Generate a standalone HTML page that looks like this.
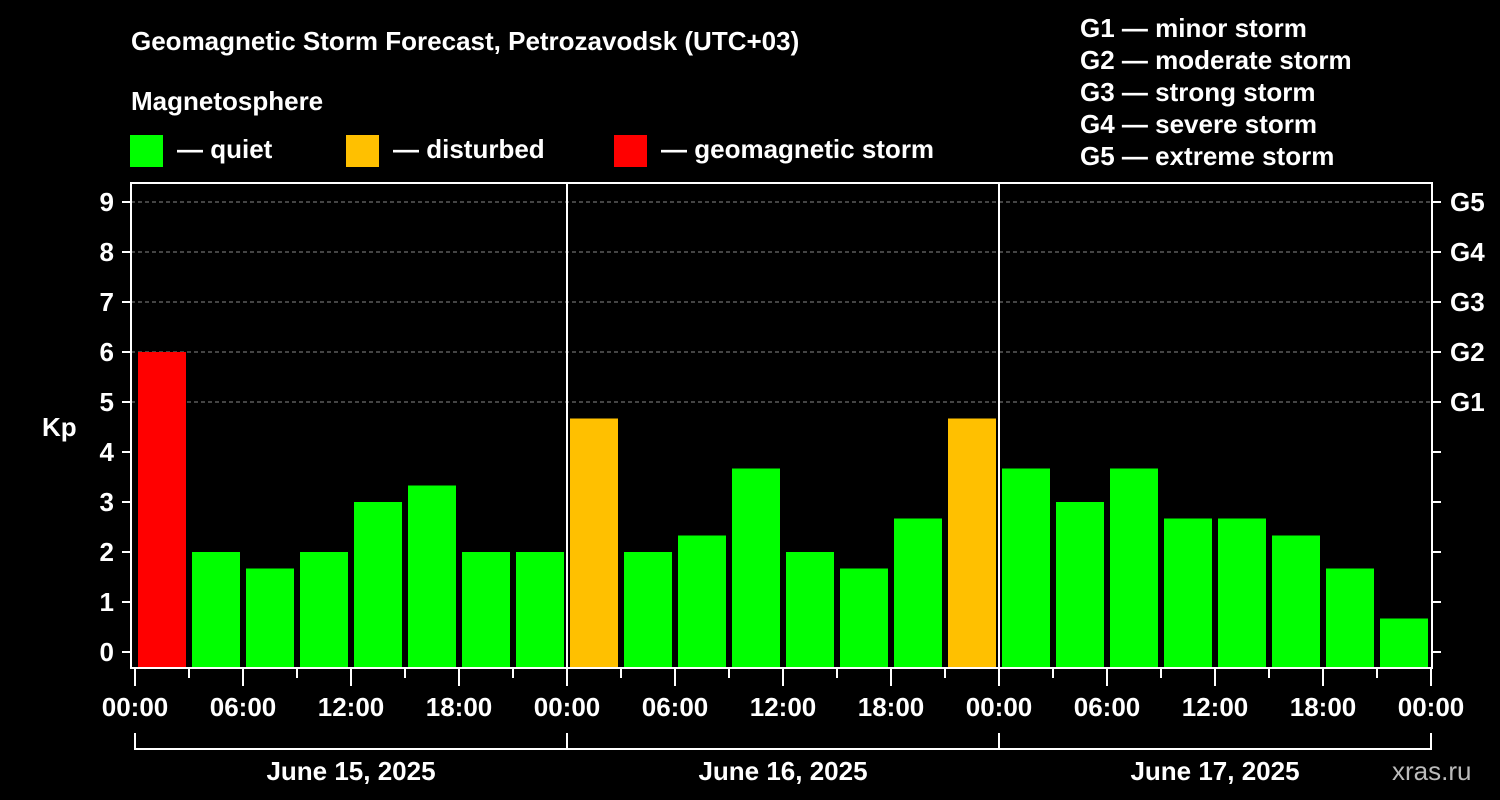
<!DOCTYPE html>
<html><head><meta charset="utf-8">
<style>
html,body{margin:0;padding:0;background:#000;}
svg{display:block;font-family:"Liberation Sans",Arial,sans-serif;font-weight:bold;}
</style></head>
<body>
<svg id="chart" width="1500" height="800" viewBox="0 0 1500 800" xmlns="http://www.w3.org/2000/svg">
<rect width="1500" height="800" fill="#000"/>
<text x="131" y="50" fill="#fff" font-size="26">Geomagnetic Storm Forecast, Petrozavodsk (UTC+03)</text>
<text x="131" y="110" fill="#fff" font-size="26">Magnetosphere</text>
<g><rect x="130" y="135" width="33" height="32" fill="#00ff00"/><text x="177" y="158" fill="#fff" font-size="26">— quiet</text></g>
<g><rect x="346" y="135" width="33" height="32" fill="#ffc000"/><text x="393" y="158" fill="#fff" font-size="26">— disturbed</text></g>
<g><rect x="614" y="135" width="33" height="32" fill="#ff0000"/><text x="661" y="158" fill="#fff" font-size="26">— geomagnetic storm</text></g>
<g fill="#fff" font-size="26">
<text x="1080" y="37">G1 — minor storm</text>
<text x="1080" y="69">G2 — moderate storm</text>
<text x="1080" y="101">G3 — strong storm</text>
<text x="1080" y="133">G4 — severe storm</text>
<text x="1080" y="165">G5 — extreme storm</text>
</g>
<text x="42" y="436" fill="#fff" font-size="26">Kp</text>
<text x="1392" y="780" fill="#bbb" font-size="26" font-weight="normal">xras.ru</text>
<g id="grid"></g>
<g id="bars"></g>
<g id="axes"></g>
</svg>
<script>
const kpValues = [6,2,1.67,2,3,3.33,2,2, 4.67,2,2.33,3.67,2,1.67,2.67,4.67, 3.67,3,3.67,2.67,2.67,2.33,1.67,0.67];
const yTicks = [0,1,2,3,4,5,6,7,8,9];
const gLabels = ["G1","G2","G3","G4","G5"];
const gLevels = [5,6,7,8,9];
const xTickLabels = ["00:00","06:00","12:00","18:00","00:00","06:00","12:00","18:00","00:00","06:00","12:00","18:00","00:00"];
const dayLabels = ["June 15, 2025","June 16, 2025","June 17, 2025"];

const NS="http://www.w3.org/2000/svg";
const X0=135, X1=1431, TOP=183, BOT=668;
const x = h => X0 + (X1-X0)*h/72;
const y = v => 652 - 50*v;
function mk(tag, attrs, parent, text){const e=document.createElementNS(NS,tag);for(const k in attrs)e.setAttribute(k,attrs[k]);if(text!==undefined)e.textContent=text;parent.appendChild(e);return e;}
const grid=document.getElementById('grid'), bars=document.getElementById('bars'), axes=document.getElementById('axes');

gLevels.forEach(v=>{
  const l=mk('line',{x1:131,x2:1431,y1:y(v),y2:y(v),stroke:'#888','stroke-dasharray':'4,3','stroke-width':1},grid);
  
  
});

kpValues.forEach((v,i)=>{
  const c = v>=5?'#ff0000':(v>=4?'#ffc000':'#00ff00');
  const r=mk('rect',{x:x(i*3)+3,y:y(v),width:x(3)-x(0)-6,height:BOT-y(v),fill:c},bars);
  
  
});

// frame
const f=mk('rect',{x:131,y:TOP,width:X1-131+1,height:BOT-TOP,fill:'none',stroke:'#fff','stroke-width':2},axes);


[1,2].forEach(d=>{
  const l=mk('line',{x1:x(d*24),x2:x(d*24),y1:TOP,y2:BOT,stroke:'#fff','stroke-width':2},axes);
  
  
});
yTicks.forEach(v=>{
  mk('line',{x1:122,x2:131,y1:y(v),y2:y(v),stroke:'#fff','stroke-width':2},axes);
  mk('line',{x1:1432,x2:1441,y1:y(v),y2:y(v),stroke:'#fff','stroke-width':2},axes);
  const t=mk('text',{x:114,y:y(v)+9,fill:'#fff','font-size':26,'text-anchor':'end'},axes,String(v));
  
  
});
gLabels.forEach((g,i)=>{
  const t=mk('text',{x:1450,y:y(gLevels[i])+9,fill:'#fff','font-size':26},axes,g);
  
  
});
for(let h=0;h<=72;h+=3){
  const major=h%6===0;
  mk('line',{x1:x(h),x2:x(h),y1:BOT,y2:major?686:678,stroke:'#fff','stroke-width':2},axes);
}
xTickLabels.forEach((s,i)=>{
  const t=mk('text',{x:x(i*6),y:716,fill:'#fff','font-size':26,'text-anchor':'middle'},axes,s);
  
  
});
mk('path',{d:`M${x(0)},733 V749 H${x(72)} V733`,fill:'none',stroke:'#fff','stroke-width':2},axes);
[1,2].forEach(d=>mk('line',{x1:x(d*24),x2:x(d*24),y1:733,y2:749,stroke:'#fff','stroke-width':2},axes));
dayLabels.forEach((s,i)=>{
  const t=mk('text',{x:x(i*24+12),y:780,fill:'#fff','font-size':26,'text-anchor':'middle'},axes,s);
  
  
});
</script>
</body></html>
